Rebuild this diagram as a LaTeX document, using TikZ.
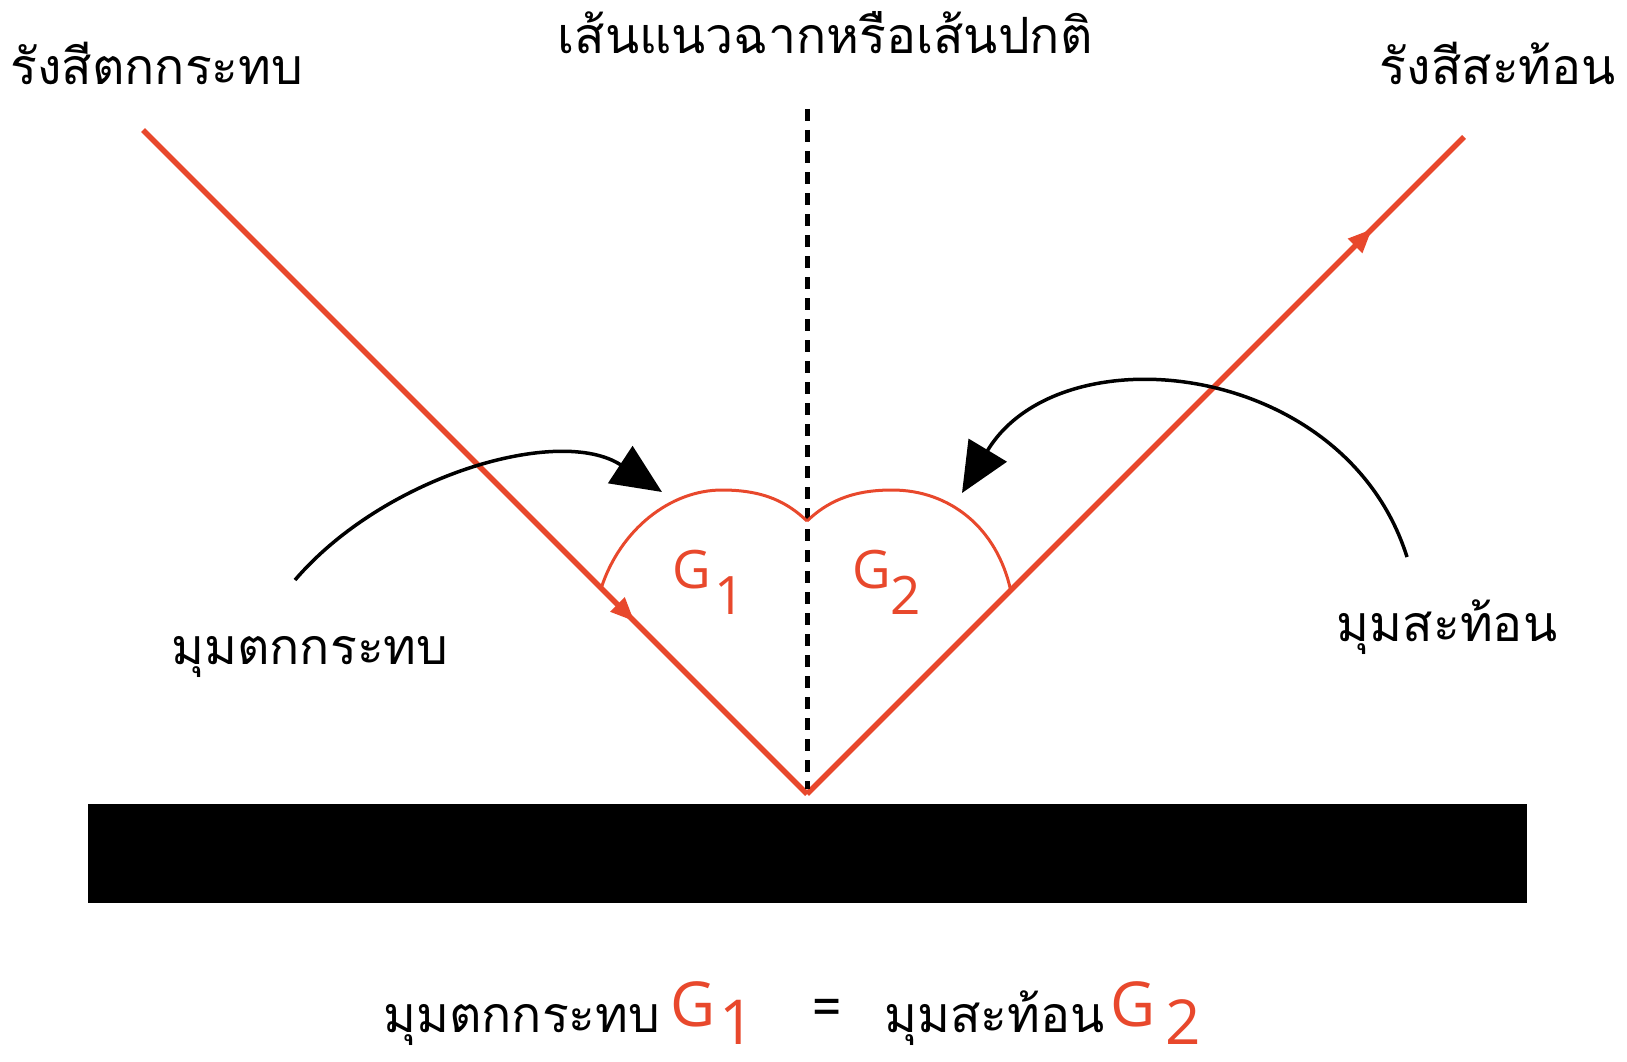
\documentclass[tikz,border=0pt]{standalone}
\usepackage{fontspec}
\usepackage{tikz}
\usetikzlibrary{arrows.meta, calc, decorations.markings, positioning}
\newfontfamily\thaifont[Script=Thai]{Loma}
\newfontfamily\gfont{Open Sans}
\definecolor{rayred}{RGB}{232,72,44}

\begin{document}
\begin{tikzpicture}[x=1pt, y=-1pt,
  lbl/.style={font=\thaifont\fontsize{50}{58}\selectfont, inner sep=0pt, anchor=base},
  ang/.style={font=\gfont\fontsize{53}{60}\selectfont, text=rayred, inner sep=0pt, anchor=base west},
  bigang/.style={font=\gfont\fontsize{62}{68}\selectfont, text=rayred, inner sep=0pt, anchor=base west},
  ray/.style={rayred, line width=5.5pt},
  arcline/.style={rayred, line width=3pt},
  pointer/.style={-{Triangle[length=50pt,width=44pt]}, line width=3.5pt},
  normal/.style={dash pattern=on 12pt off 9pt, line width=5pt},
  midarrow/.style={postaction={decorate}, decoration={markings,
    mark=at position #1 with {\arrow{Triangle[length=24pt,width=19pt]}}}}]
  \useasboundingbox (0,0) rectangle (1627,1062);
  % mirror
  \node[fill=black, minimum width=1439pt, minimum height=99pt, inner sep=0pt] (mirror) at (807.5,853.5) {};
  % rays
  \coordinate (src) at (143,130);
  \coordinate (hit) at (807,794);
  \coordinate (dst) at (1464,137);
  \draw[ray, midarrow=0.74] (src) -- (hit);
  \draw[ray, midarrow=0.86] (hit) -- (dst);
  % normal
  \coordinate (ntop) at (807,109);
  \coordinate (nbot) at (807,789);
  \draw[normal] (ntop) -- (nbot);
  % angle arcs
  \coordinate (la) at ($(hit)!0.31!(src)$);
  \coordinate (lt) at (722,490);
  \coordinate (nm) at (807,521);
  \coordinate (rt) at (892,490);
  \coordinate (ra) at ($(hit)!0.31!(dst)$);
  \draw[arcline] (la) .. controls (620,530) and (670,490) .. (lt)
    .. controls (765,490) and (788,503) .. (nm);
  \draw[arcline] (nm) .. controls (826,503) and (850,490) .. (rt)
    .. controls (950,490) and (997,528) .. (ra);
  \node[ang] (g1) at (672,588) {G\hspace{4pt}\raisebox{-26pt}{1}};
  \node[ang] (g2) at (852,588) {G\hspace{0pt}\raisebox{-26pt}{2}};
  % labels
  \node[lbl] (inc) at (157,85) {รังสีตกกระทบ};
  \node[lbl] (title) at (825,54) {เส้นแนวฉากหรือเส้นปกติ};
  \node[lbl] (refl) at (1498,85) {รังสีสะท้อน};
  \node[lbl] (incang) at (310,664) {มุมตกกระทบ};
  \node[lbl] (reflang) at (1447,641) {มุมสะท้อน};
  % pointers
  \coordinate (p1) at (295,580);
  \coordinate (t1) at (662,492);
  \coordinate (p2) at (1407,557);
  \coordinate (t2) at (962,493);
  \draw[pointer] (p1) .. controls (385,475) and (560,425) .. (t1);
  \draw[pointer] (p2) .. controls (1345,360) and (1060,330) .. (t2);
  % law
  \node[lbl, anchor=base west] (lhs) at (383,1032) {มุมตกกระทบ};
  \node[bigang] (g1b) at (670,1026) {G\hspace{4pt}\raisebox{-18pt}[0pt][0pt]{1}};
  \node[lbl, anchor=base west] (eq) at (812,1024) {=};
  \node[lbl, anchor=base west] (rhs) at (884,1032) {มุมสะท้อน};
  \node[bigang] (g2b) at (1110,1026) {G\hspace{10pt}\raisebox{-18pt}[0pt][0pt]{2}};
\end{tikzpicture}
\end{document}
